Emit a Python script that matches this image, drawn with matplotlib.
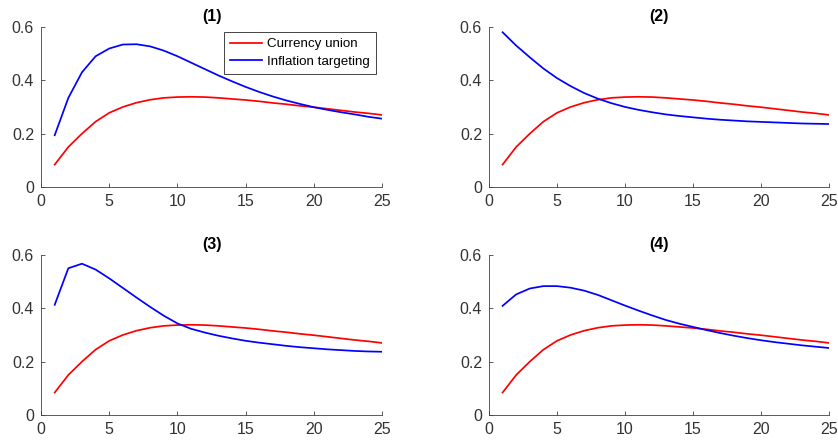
import numpy as np
import matplotlib
matplotlib.use("Agg")
import matplotlib.pyplot as plt

plt.rcParams['font.family'] = ['Liberation Sans', 'DejaVu Sans']

periods = np.arange(1, 26)

# currency union response, same in every panel
currency_union = [0.084, 0.150, 0.200, 0.245, 0.278, 0.300, 0.316, 0.327, 0.334, 0.337,
                  0.338, 0.337, 0.334, 0.330, 0.326, 0.321, 0.315, 0.310, 0.304, 0.299,
                  0.293, 0.287, 0.281, 0.276, 0.270]

# inflation targeting response, one list per panel
infl_1 = [0.194, 0.334, 0.430, 0.490, 0.519, 0.534, 0.535, 0.527, 0.511, 0.490,
          0.466, 0.442, 0.418, 0.396, 0.375, 0.356, 0.339, 0.324, 0.311, 0.299,
          0.289, 0.280, 0.272, 0.263, 0.256]
infl_2 = [0.580, 0.530, 0.486, 0.444, 0.408, 0.378, 0.352, 0.331, 0.314, 0.300,
          0.289, 0.280, 0.272, 0.266, 0.261, 0.256, 0.252, 0.249, 0.246, 0.244,
          0.242, 0.240, 0.238, 0.237, 0.236]
infl_3 = [0.413, 0.550, 0.567, 0.545, 0.512, 0.476, 0.440, 0.405, 0.372, 0.343,
          0.323, 0.309, 0.297, 0.287, 0.278, 0.271, 0.265, 0.259, 0.254, 0.250,
          0.246, 0.243, 0.240, 0.238, 0.237]
infl_4 = [0.409, 0.452, 0.474, 0.483, 0.483, 0.477, 0.466, 0.450, 0.430, 0.410,
          0.391, 0.373, 0.356, 0.342, 0.330, 0.318, 0.307, 0.297, 0.288, 0.280,
          0.273, 0.267, 0.261, 0.256, 0.251]

titles = ["(1)", "(2)", "(3)", "(4)"]
infl_series = [infl_1, infl_2, infl_3, infl_4]

fig = plt.figure(figsize=(8.38, 4.41), dpi=100)

# axes boxes in figure fractions (left, bottom, width, height)
boxes = [
    (0.049, 0.576, 0.407, 0.363),
    (0.5835, 0.576, 0.406, 0.363),
    (0.049, 0.059, 0.407, 0.363),
    (0.5835, 0.059, 0.406, 0.363),
]

axis_grey = '#404040'
for i, (box, title, infl) in enumerate(zip(boxes, titles, infl_series)):
    ax = fig.add_axes(box)
    ax.plot(periods, currency_union, color='#ff0000', lw=1.25, label='Currency union')
    ax.plot(periods, infl, color='#0000ff', lw=1.25, label='Inflation targeting')
    ax.set_xlim(0, 25)
    ax.set_ylim(0, 0.6)
    ax.set_xticks([0, 5, 10, 15, 20, 25])
    ax.set_yticks([0, 0.2, 0.4, 0.6])
    ax.set_yticklabels(['0', '0.2', '0.4', '0.6'])
    ax.spines['top'].set_visible(False)
    ax.spines['right'].set_visible(False)
    for s in ('left', 'bottom'):
        ax.spines[s].set_color(axis_grey)
        ax.spines[s].set_linewidth(0.6)
    ax.tick_params(direction='in', length=3, width=0.6, colors=axis_grey,
                   labelsize=11.5, labelcolor='#333333', pad=5)
    ax.set_title(title, fontsize=11.5, fontweight='bold', pad=4)
    if i == 0:
        leg = ax.legend(loc='upper right', bbox_to_anchor=(0.99, 0.985), fontsize=9.6,
                        fancybox=False, framealpha=1, edgecolor='#262626',
                        handlelength=2.4, borderpad=0.45, labelspacing=0.4,
                        handletextpad=0.4, borderaxespad=0.2)
        leg.get_frame().set_linewidth(0.6)

fig.savefig('out.png', dpi=100)
